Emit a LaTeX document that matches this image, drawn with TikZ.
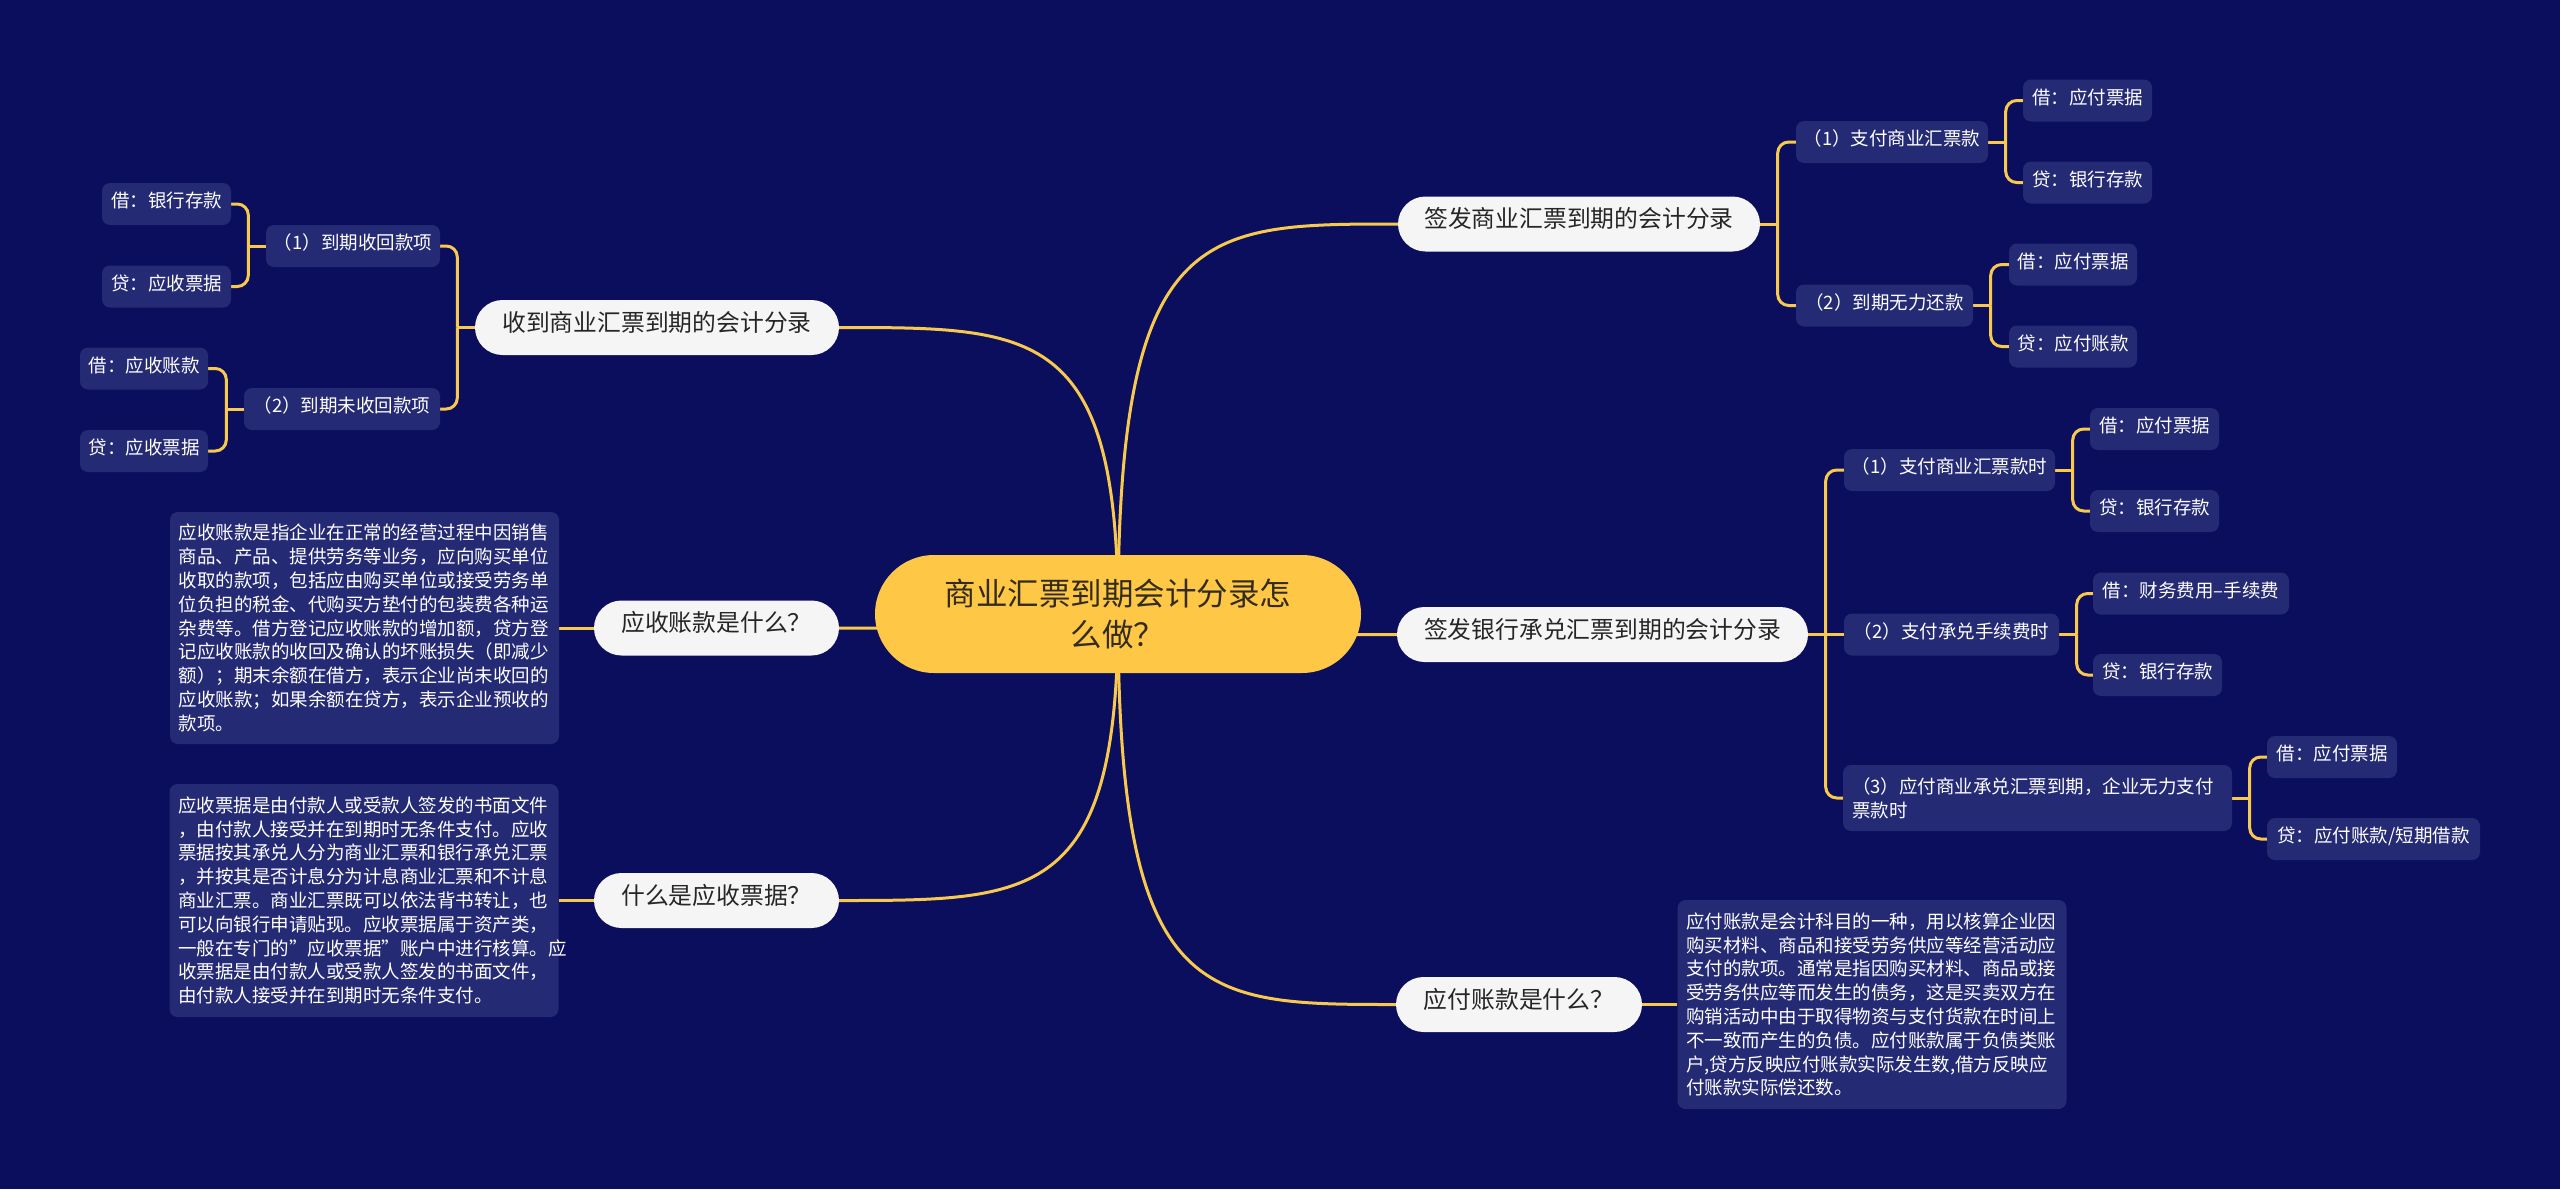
\documentclass[tikz,border=0pt]{standalone}
\usepackage{fontspec}
\setmainfont{Noto Sans CJK SC}
\usetikzlibrary{calc}
\definecolor{bgc}{RGB}{11,14,92}
\definecolor{boxc}{RGB}{37,42,117}
\definecolor{linec}{RGB}{247,201,79}
\definecolor{rootc}{RGB}{254,199,69}
\definecolor{roottextc}{RGB}{51,44,30}
\definecolor{pillc}{RGB}{245,245,245}
\definecolor{pilltextc}{RGB}{38,38,38}
\pgfdeclarelayer{back}
\pgfsetlayers{back,main}
\begin{document}
\begin{tikzpicture}[x=1pt,y=-1pt,
  conn/.style={draw=linec, line width=3pt},
  rc/.style={conn, rounded corners=11pt},
  rootnode/.style={fill=rootc, text=roottextc, rounded corners=59pt, minimum width=486pt, minimum height=118pt, align=center, font=\fontsize{31.5}{41.5}\selectfont, inner sep=0pt},
  pill/.style={fill=pillc, text=pilltextc, rounded corners=27.5pt, minimum height=55pt, inner xsep=0pt, inner ysep=0pt, font=\fontsize{23.8}{28}\selectfont, text height=0.83em, text depth=0.07em},
  leaf/.style={fill=boxc, text=white, rounded corners=8pt, minimum height=42pt, inner xsep=0pt, inner ysep=0pt, font=\fontsize{18.5}{23.8}\selectfont, text height=0.83em, text depth=0.07em},
  leaftwo/.style={fill=boxc, text=white, rounded corners=8pt, minimum height=66pt, inner xsep=9pt, inner ysep=0pt, text width=371pt, align=left, font=\fontsize{18.5}{24}\selectfont},
  note/.style={fill=boxc, text=white, rounded corners=8pt, inner xsep=8.5pt, inner ysep=0pt, text width=372pt, align=left, font=\fontsize{18.5}{23.8}\selectfont},
]
\begin{pgfonlayer}{back}
\fill[bgc] (0,0) rectangle (2560,1189);
\end{pgfonlayer}
\useasboundingbox (0,0) rectangle (2560,1189);

% root
\node[rootnode] (root) at (1118,614) {商业汇票到期会计分录怎\\么做？};

% level 1
\node[pill, minimum width=362pt] (A) at (1579,224) {签发商业汇票到期的会计分录};
\node[pill, minimum width=411pt] (B) at (1602.5,634.5) {签发银行承兑汇票到期的会计分录};
\node[pill, minimum width=246pt] (C) at (1519,1004.5) {应付账款是什么？};
\node[pill, minimum width=364pt] (D) at (657,327.5) {收到商业汇票到期的会计分录};
\node[pill, minimum width=245pt] (E) at (716.5,628) {应收账款是什么？};
\node[pill, minimum width=245pt] (F) at (716.5,900.5) {什么是应收票据？};

% left upper
\node[leaf, minimum width=174pt] (D1) at (353,246) {（1）到期收回款项};
\node[leaf, minimum width=129pt] (D1a) at (166.5,204) {借：银行存款};
\node[leaf, minimum width=129pt] (D1b) at (166.5,286.5) {贷：应收票据};
\node[leaf, minimum width=196pt] (D2) at (342,409) {（2）到期未收回款项};
\node[leaf, minimum width=128pt] (D2a) at (144,368.5) {借：应收账款};
\node[leaf, minimum width=128pt] (D2b) at (144,451) {贷：应收票据};

% right upper
\node[leaf, minimum width=192pt] (A1) at (1892,142) {（1）支付商业汇票款};
\node[leaf, minimum width=129pt] (A1a) at (2087.5,100.5) {借：应付票据};
\node[leaf, minimum width=129pt] (A1b) at (2087.5,182.5) {贷：银行存款};
\node[leaf, minimum width=177pt] (A2) at (1884.5,305.5) {（2）到期无力还款};
\node[leaf, minimum width=128pt] (A2a) at (2073,264.5) {借：应付票据};
\node[leaf, minimum width=128pt] (A2b) at (2073,346.5) {贷：应付账款};

% right middle
\node[leaf, minimum width=211pt] (B1) at (1949.5,470) {（1）支付商业汇票款时};
\node[leaf, minimum width=129pt] (B1a) at (2154.5,429) {借：应付票据};
\node[leaf, minimum width=129pt] (B1b) at (2154.5,511) {贷：银行存款};
\node[leaf, minimum width=215pt] (B2) at (1951.5,634.5) {（2）支付承兑手续费时};
\node[leaf, minimum width=196pt] (B2a) at (2191,593.5) {借：财务费用–手续费};
\node[leaf, minimum width=129pt] (B2b) at (2157.5,675) {贷：银行存款};
\node[leaftwo] (B3) at (2037.5,798) {（3）应付商业承兑汇票到期，企业无力支付\\票款时};
\node[leaf, minimum width=130pt] (B3a) at (2332,757) {借：应付票据};
\node[leaf, minimum width=213pt] (B3b) at (2373.5,839) {贷：应付账款/短期借款};

% notes
\node[note, minimum height=232pt] (Et) at (364.5,628) {应收账款是指企业在正常的经营过程中因销售\\商品、产品、提供劳务等业务，应向购买单位\\收取的款项，包括应由购买单位或接受劳务单\\位负担的税金、代购买方垫付的包装费各种运\\杂费等。借方登记应收账款的增加额，贷方登\\记应收账款的收回及确认的坏账损失（即减少\\额）；期末余额在借方，表示企业尚未收回的\\应收账款；如果余额在贷方，表示企业预收的\\款项。};
\node[note, minimum height=233pt] (Ft) at (364,900.5) {应收票据是由付款人或受款人签发的书面文件\\，由付款人接受并在到期时无条件支付。应收\\票据按其承兑人分为商业汇票和银行承兑汇票\\，并按其是否计息分为计息商业汇票和不计息\\商业汇票。商业汇票既可以依法背书转让，也\\可以向银行申请贴现。应收票据属于资产类，\\一般在专门的"应收票据"账户中进行核算。应\\收票据是由付款人或受款人签发的书面文件，\\由付款人接受并在到期时无条件支付。};
\node[note, minimum height=209pt] (Ct) at (1872,1004.5) {应付账款是会计科目的一种，用以核算企业因\\购买材料、商品和接受劳务供应等经营活动应\\支付的款项。通常是指因购买材料、商品或接\\受劳务供应等而发生的债务，这是买卖双方在\\购销活动中由于取得物资与支付货款在时间上\\不一致而产生的负债。应付账款属于负债类账\\户,贷方反映应付账款实际发生数,借方反映应\\付账款实际偿还数。};

\begin{pgfonlayer}{back}
% root curves
\foreach \n/\a in {A/west,B/west,C/west,D/east,E/east,F/east}{
  \coordinate (k\n) at (root.center |- \n.\a);
  \draw[conn] (root.center) .. controls (k\n) and ($(k\n)!0.3!(\n.\a)$) .. (\n.\a);
}
% notes
\draw[conn] (E.west) -- (Et.east);
\draw[conn] (F.west) -- (Ft.east);
\draw[conn] (C.east) -- (Ct.west);
% right brackets
\foreach \p/\cs in {A/{A1,A2},A1/{A1a,A1b},A2/{A2a,A2b},B/{B1,B3},B1/{B1a,B1b},B2/{B2a,B2b},B3/{B3a,B3b}}{
  \coordinate (b\p) at ($(\p.east)+(17.5,0)$);
  \draw[conn] (\p.east) -- (b\p);
  \foreach \c in \cs { \draw[rc] (b\p) |- (\c.west); }
}
\draw[conn] (bB) -- (B2.west);
% left brackets
\foreach \p/\cs in {D/{D1,D2},D1/{D1a,D1b},D2/{D2a,D2b}}{
  \coordinate (b\p) at ($(\p.west)+(-17.5,0)$);
  \draw[conn] (\p.west) -- (b\p);
  \foreach \c in \cs { \draw[rc] (b\p) |- (\c.east); }
}
\end{pgfonlayer}
\end{tikzpicture}
\end{document}
